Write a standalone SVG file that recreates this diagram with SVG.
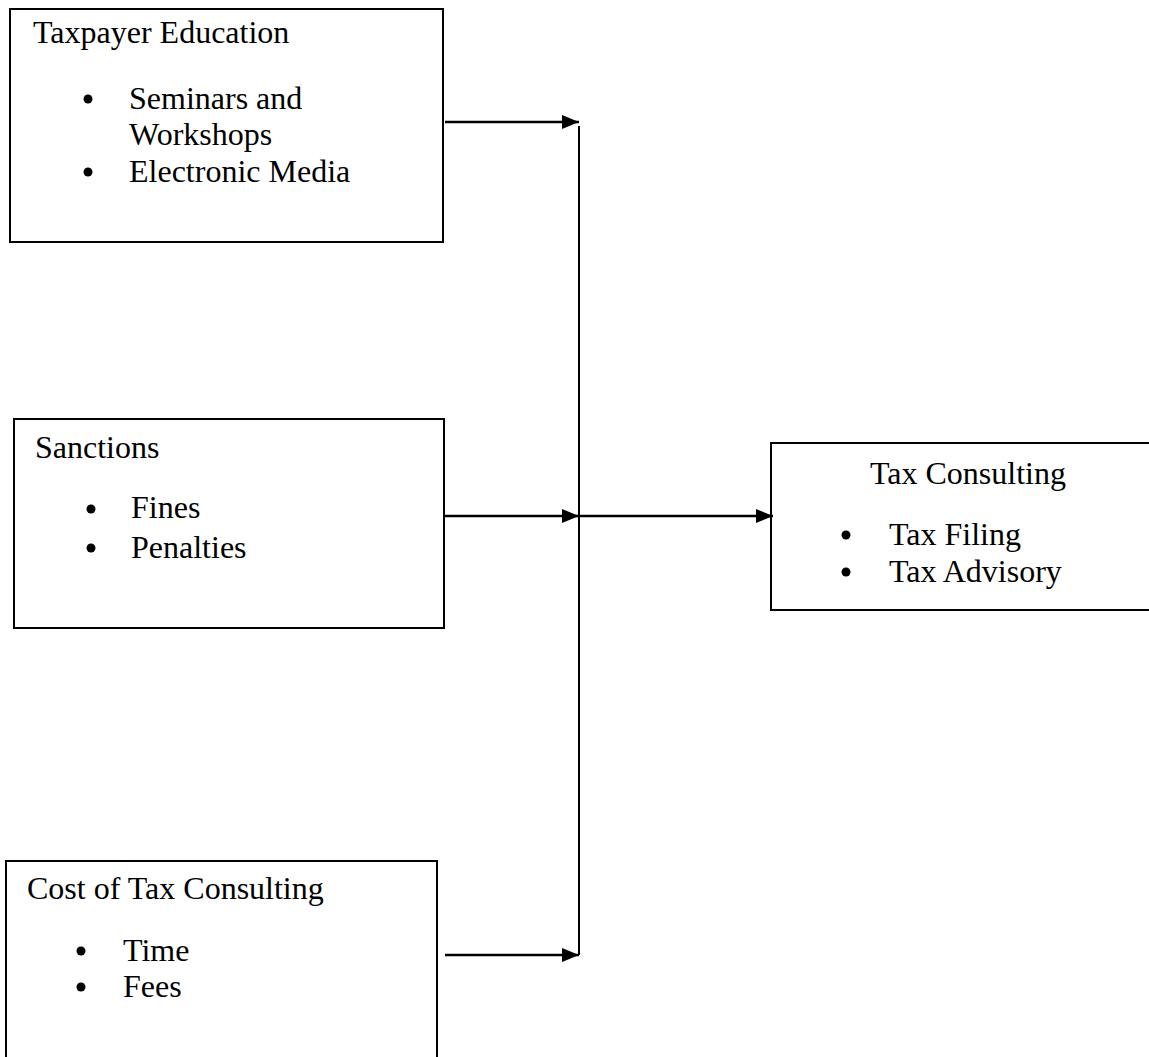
<svg xmlns="http://www.w3.org/2000/svg" width="1149" height="1057" viewBox="0 0 1149 1057">
<style>
  .box { fill: #ffffff; stroke: #000000; stroke-width: 2; }
  .t { font-family: "Liberation Serif", "Times New Roman", serif; font-size: 32px; fill: #000000; }
  .dot { fill: #000000; }
  .conn { stroke: #000000; stroke-width: 2.5; fill: none; }
  .vline { stroke: #000000; stroke-width: 2; fill: none; }
</style>
<defs>
  <marker id="arrow" viewBox="0 0 17 14" refX="17" refY="7" markerWidth="17" markerHeight="14" markerUnits="userSpaceOnUse" orient="auto">
    <path d="M0,0 L17,7 L0,14 Z" fill="#000000"/>
  </marker>
</defs>
<rect width="1149" height="1057" fill="#ffffff"/>

<g id="node-taxpayer-education">
  <rect class="box" x="10" y="9" width="433" height="233"/>
  <text class="t" x="33" y="43">Taxpayer Education</text>
  <circle class="dot" cx="88" cy="99" r="4.5"/>
  <text class="t" x="129" y="109">Seminars and</text>
  <text class="t" x="129" y="145">Workshops</text>
  <circle class="dot" cx="88" cy="172" r="4.5"/>
  <text class="t" x="129" y="182">Electronic Media</text>
</g>

<g id="node-sanctions">
  <rect class="box" x="14" y="419" width="430" height="209"/>
  <text class="t" x="35" y="458">Sanctions</text>
  <circle class="dot" cx="91" cy="509" r="4.5"/>
  <text class="t" x="131" y="518">Fines</text>
  <circle class="dot" cx="91" cy="548" r="4.5"/>
  <text class="t" x="131" y="558">Penalties</text>
</g>

<g id="node-tax-consulting">
  <rect class="box" x="771" y="443" width="390" height="167"/>
  <text class="t" x="870" y="484">Tax Consulting</text>
  <circle class="dot" cx="846" cy="535" r="4.5"/>
  <text class="t" x="889" y="545">Tax Filing</text>
  <circle class="dot" cx="846" cy="572" r="4.5"/>
  <text class="t" x="889" y="582">Tax Advisory</text>
</g>

<g id="node-cost">
  <rect class="box" x="6" y="861" width="431" height="210"/>
  <text class="t" x="27" y="899">Cost of Tax Consulting</text>
  <circle class="dot" cx="81" cy="951" r="4.5"/>
  <text class="t" x="123" y="961">Time</text>
  <circle class="dot" cx="81" cy="987" r="4.5"/>
  <text class="t" x="123" y="997">Fees</text>
</g>

<g id="connectors">
  <line class="vline" x1="579" y1="126" x2="579" y2="955"/>
  <line class="conn" x1="445" y1="122" x2="579" y2="122" marker-end="url(#arrow)"/>
  <line class="conn" x1="445" y1="516" x2="579" y2="516" marker-end="url(#arrow)"/>
  <line class="conn" x1="579" y1="516" x2="773" y2="516" marker-end="url(#arrow)"/>
  <line class="conn" x1="445" y1="955" x2="579" y2="955" marker-end="url(#arrow)"/>
</g>
</svg>
